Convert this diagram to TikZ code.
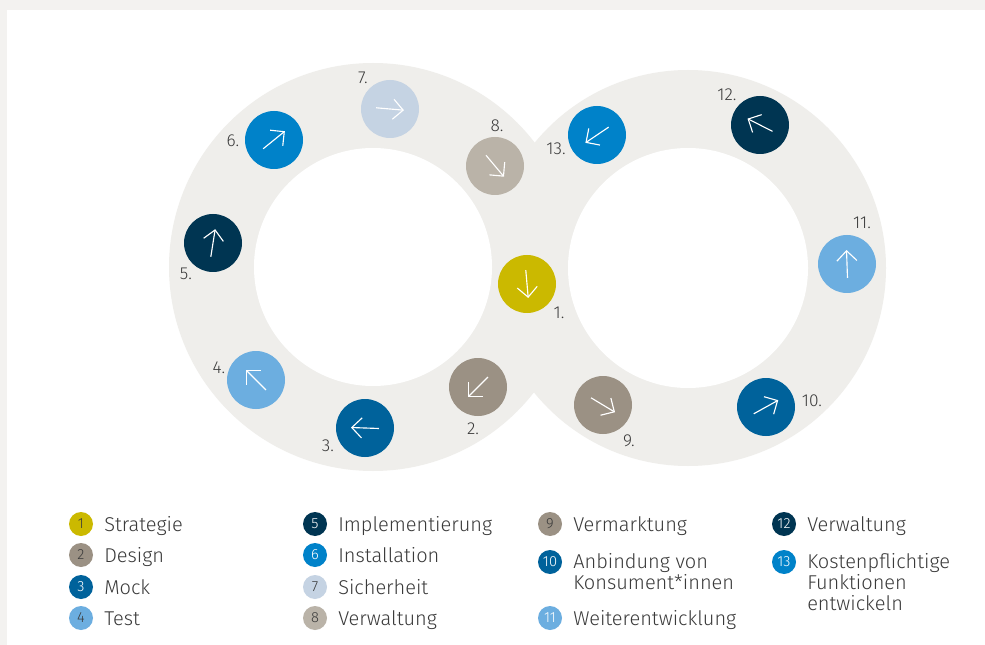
\documentclass[tikz,border=0pt]{standalone}
\usepackage{fontspec}
\setmainfont{Fira Sans Light}
\usetikzlibrary{arrows.meta,calc}
\definecolor{bgout}{HTML}{F3F2F0}
\definecolor{ring}{HTML}{EFEEEB}
\definecolor{txt}{HTML}{3A3A3A}
\definecolor{cA}{HTML}{CBB900}
\definecolor{cB}{HTML}{9B9184}
\definecolor{cC}{HTML}{00629B}
\definecolor{cD}{HTML}{6CAEE0}
\definecolor{cE}{HTML}{003552}
\definecolor{cF}{HTML}{0082C9}
\definecolor{cG}{HTML}{C5D3E3}
\definecolor{cH}{HTML}{BAB3A8}
\newcommand\mkarrow[2]{\draw[arr] ($(#1)+({180-#2}:14)$) -- ($(#1)+({-#2}:14)$);}
\begin{document}
\begin{tikzpicture}[x=0.75pt,y=-0.75pt,
 mk/.style={circle, minimum size=43.5pt, inner sep=0pt},
 lg/.style={circle, minimum size=18pt, inner sep=0pt, font=\fontsize{11}{11}\selectfont},
 arr/.style={white, line width=0.85pt, -{Straight Barb[length=7.5pt,width=15pt,line width=0.85pt]}},
 num/.style={anchor=base, text=txt, font=\fontsize{13}{13}\selectfont, inner sep=0pt},
 lt/.style={anchor=base west, text=txt, font=\fontsize{15}{15.75}\selectfont, inner sep=0pt},
]
\useasboundingbox (0,0) rectangle (985,645);
\fill[bgout] (0,0) rectangle (985,645);
\fill[white] (7,10) rectangle (985,645);
% rings
\fill[ring] (373,267) circle (204);
\fill[ring] (688,268) circle (198);
\fill[white] (373,267) circle (119);
\fill[white] (688,268) circle (120);
% markers
\node[mk, fill=cA] (m1) at (527,284) {};
\node[mk, fill=cB] (m2) at (478,387) {};
\node[mk, fill=cC] (m3) at (365,428) {};
\node[mk, fill=cD] (m4) at (256,380) {};
\node[mk, fill=cE] (m5) at (213,243) {};
\node[mk, fill=cF] (m6) at (274,140) {};
\node[mk, fill=cG] (m7) at (390,109) {};
\node[mk, fill=cH] (m8) at (495,166) {};
\node[mk, fill=cB] (m9) at (603,405) {};
\node[mk, fill=cC] (m10) at (766,407) {};
\node[mk, fill=cD] (m11) at (847,264) {};
\node[mk, fill=cE] (m12) at (760,125) {};
\node[mk, fill=cF] (m13) at (597,135) {};
\mkarrow{m1}{-85}
\mkarrow{m2}{225}
\mkarrow{m3}{178}
\mkarrow{m4}{135}
\mkarrow{m5}{81}
\mkarrow{m6}{39}
\mkarrow{m7}{-5}
\mkarrow{m8}{-50}
\mkarrow{m9}{-31}
\mkarrow{m10}{29}
\mkarrow{m11}{92}
\mkarrow{m12}{153}
\mkarrow{m13}{214}
% number labels
\node[num] (n1) at (559,319) {1.};
\node[num] (n2) at (473,434) {2.};
\node[num] (n3) at (328,451) {3.};
\node[num] (n4) at (219,373) {4.};
\node[num] (n5) at (186,280) {5.};
\node[num] (n6) at (233,147) {6.};
\node[num] (n7) at (363,84) {7.};
\node[num] (n8) at (497,132) {8.};
\node[num] (n9) at (629,446) {9.};
\node[num] (n10) at (812,406) {10.};
\node[num] (n11) at (862,229) {11.};
\node[num] (n12) at (727,101) {12.};
\node[num] (n13) at (556,155) {13.};
% legend
\node[lg, fill=cA, text=txt] (k1) at (81,524) {1};
\node[lt] (t1) at (104,531) {Strategie};
\node[lg, fill=cB, text=txt] (k2) at (81,555) {2};
\node[lt] (t2) at (104,562) {Design};
\node[lg, fill=cC, text=white] (k3) at (81,587) {3};
\node[lt] (t3) at (104,594) {Mock};
\node[lg, fill=cD, text=txt] (k4) at (81,618) {4};
\node[lt] (t4) at (104,625) {Test};
\node[lg, fill=cE, text=white] (k5) at (315,524) {5};
\node[lt] (t5) at (338,531) {Implementierung};
\node[lg, fill=cF, text=white] (k6) at (315,555) {6};
\node[lt] (t6) at (338,562) {Installation};
\node[lg, fill=cG, text=txt] (k7) at (315,587) {7};
\node[lt] (t7) at (338,594) {Sicherheit};
\node[lg, fill=cH, text=txt] (k8) at (315,618) {8};
\node[lt] (t8) at (338,625) {Verwaltung};
\node[lg, fill=cB, text=txt] (k9) at (550,524) {9};
\node[lt] (t9) at (573,531) {Vermarktung};
\node[lg, fill=cC, text=white] (k10) at (550,562) {10};
\node[lt] (t10) at (573,568) {\begin{tabular}[t]{@{}l@{}}Anbindung von\\Konsument*innen\end{tabular}};
\node[lg, fill=cD, text=white] (k11) at (550,618) {11};
\node[lt] (t11) at (573,625) {Weiterentwicklung};
\node[lg, fill=cE, text=white] (k12) at (784,524) {12};
\node[lt] (t12) at (807,531) {Verwaltung};
\node[lg, fill=cF, text=white] (k13) at (784,562) {13};
\node[lt] (t13) at (807,568) {\begin{tabular}[t]{@{}l@{}}Kostenpflichtige\\Funktionen\\entwickeln\end{tabular}};
\end{tikzpicture}
\end{document}
